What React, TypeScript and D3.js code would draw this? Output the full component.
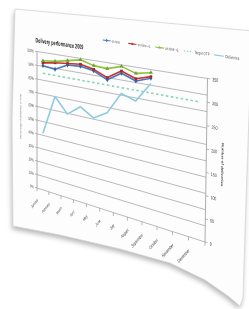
import * as d3 from "d3";

// values (percent on time, deliveries count)
const MONTHS = [
  "January", "February", "March", "April", "May", "June",
  "July", "August", "September", "October", "November", "December",
];
const ON_TIME = [90.5, 89.5, 94, 94.5, 93, 88.5, 94.5, 91, 94.5];
const ON_TIME_1 = [92.5, 94, 95, 96, 94, 90, 96, 92.5, 95.5];
const ON_TIME_3 = [94, 95, 97, 99, 96.5, 96, 99, 96, 98];
const TARGET = [85, 85, 85, 85, 85, 85, 85, 85, 85, 85, 85, 85];
const DELIVERIES = [145, 245, 208, 233, 213, 232, 284, 273, 319];
const LEFT_TICKS = [0, 10, 20, 30, 40, 50, 60, 70, 80, 90, 100];
const RIGHT_TICKS = [0, 50, 100, 150, 200, 250, 300, 350];
const LEGEND = ["on time", "on time +1", "on time +3", "Target OTP", "Deliveries"];

const W = 249;
const H = 309;
// flat chart space (plot area), then bent onto the tilted sheet
const PW = 300;
const PH = 170;
const PLOT_QUAD = [[37, 51.5], [207.5, 78.5], [37, 188], [205, 242]]; // TL, TR, BL, BR
const PAPER = [
  [15, 9], [252, 31], [246, 200], [243, 298], [240, 306], [228, 296], [205, 280],
  [170, 263], [120, 249], [60, 235], [13, 226], [12, 120],
];
const FONT = "Liberation Sans, Arial, sans-serif";

// unit square -> quad
function makeHomography(q: number[][]) {
  const [[x0, y0], [x1, y1], [x2, y2], [x3, y3]] = q;
  const sx = x0 - x1 + x3 - x2;
  const sy = y0 - y1 + y3 - y2;
  const dx1 = x1 - x3, dx2 = x2 - x3, dy1 = y1 - y3, dy2 = y2 - y3;
  const det = dx1 * dy2 - dx2 * dy1;
  const g = (sx * dy2 - dx2 * sy) / det;
  const h = (dx1 * sy - sx * dy1) / det;
  const a = x1 - x0 + g * x1, b = x2 - x0 + h * x2, c = x0;
  const d = y1 - y0 + g * y1, e = y2 - y0 + h * y2, f = y0;
  return (s: number, t: number): [number, number] => {
    const w = g * s + h * t + 1;
    return [(a * s + b * t + c) / w, (d * s + e * t + f) / w];
  };
}

const proj = makeHomography(PLOT_QUAD);
const P = (x: number, y: number) => proj(x / PW, y / PH);

// local affine for text at a flat point, optional rotation (deg)
function tf(x: number, y: number, rot = 0) {
  const [X, Y] = P(x, y);
  const eps = 0.5;
  const [X1, Y1] = P(x + eps, y);
  const [X2, Y2] = P(x, y + eps);
  const a = (X1 - X) / eps, b = (Y1 - Y) / eps;
  const c = (X2 - X) / eps, d = (Y2 - Y) / eps;
  const r = (rot * Math.PI) / 180;
  const cs = Math.cos(r), sn = Math.sin(r);
  const m00 = a * cs + c * sn, m01 = -a * sn + c * cs;
  const m10 = b * cs + d * sn, m11 = -b * sn + d * cs;
  return `matrix(${m00},${m10},${m01},${m11},${X},${Y})`;
}

function seg(x1: number, y1: number, x2: number, y2: number) {
  const [a, b] = P(x1, y1);
  const [c, d] = P(x2, y2);
  return `M${a},${b}L${c},${d}`;
}

export default function App() {
  const x = d3.scaleBand().domain(MONTHS).range([0, PW]);
  const cx = (i: number) => (x(MONTHS[i]) as number) + x.bandwidth() / 2;
  const yL = d3.scaleLinear().domain([0, 100]).range([PH, 0]);
  const yR = d3.scaleLinear().domain([0, 350]).range([PH, 0]);
  const line = d3.line();

  const series = [
    { name: LEGEND[0], values: ON_TIME, color: "#4677c4", symbol: d3.symbolDiamond, scale: yL, dash: "" },
    { name: LEGEND[1], values: ON_TIME_1, color: "#c8352e", symbol: d3.symbolSquare, scale: yL, dash: "" },
    { name: LEGEND[2], values: ON_TIME_3, color: "#8cc43f", symbol: d3.symbolTriangle, scale: yL, dash: "" },
    { name: LEGEND[3], values: TARGET, color: "#86d6b4", symbol: null, scale: yL, dash: "2.5 2.5" },
    { name: LEGEND[4], values: DELIVERIES, color: "#8ccbe0", symbol: null, scale: yR, dash: "" },
  ];

  const paperPath = d3.line().curve(d3.curveLinearClosed)(PAPER as [number, number][]);

  return (
    <svg width={W} height={H} style={{ position: "absolute", left: 0, top: 0, background: "#fff" }}>
      <defs>
        <filter id="shadow" x="-20%" y="-20%" width="140%" height="140%">
          <feGaussianBlur stdDeviation="2.5" />
        </filter>
        <filter id="soft">
          <feGaussianBlur stdDeviation="0.4" />
        </filter>
      </defs>
      <path d={paperPath ?? ""} transform="translate(-1,3)" fill="#777" opacity={0.55} filter="url(#shadow)" />
      <path d={paperPath ?? ""} fill="#fdfdfd" stroke="#d6d6d6" strokeWidth={0.8} />

      <g filter="url(#soft)" fontFamily={FONT}>
        {/* gridlines */}
        {LEFT_TICKS.map((v) => (
          <path key={"g" + v} d={seg(0, yL(v), PW, yL(v))} stroke="#a8a8a8" strokeWidth={0.8} fill="none" />
        ))}
        {/* axes */}
        <path d={seg(0, 0, 0, PH)} stroke="#999" strokeWidth={0.8} />
        <path d={seg(PW, 0, PW, PH)} stroke="#999" strokeWidth={0.8} />
        {LEFT_TICKS.map((v) => (
          <path key={"lt" + v} d={seg(-4, yL(v), 0, yL(v))} stroke="#999" strokeWidth={0.7} />
        ))}
        {RIGHT_TICKS.map((v) => (
          <path key={"rt" + v} d={seg(PW, yR(v), PW + 4, yR(v))} stroke="#999" strokeWidth={0.7} />
        ))}
        {d3.range(MONTHS.length + 1).map((i) => (
          <path key={"bt" + i} d={seg(i * x.bandwidth(), PH, i * x.bandwidth(), PH + 4)} stroke="#999" strokeWidth={0.7} />
        ))}

        {/* tick labels */}
        {LEFT_TICKS.map((v) => (
          <text key={"ll" + v} transform={tf(-7, yL(v) + 2)} fontSize={5.5} textAnchor="end" fill="#444">
            {v + "%"}
          </text>
        ))}
        {RIGHT_TICKS.map((v) => (
          <text key={"rl" + v} transform={tf(PW + 7, yR(v) + 2)} fontSize={5.2} fill="#444">
            {v}
          </text>
        ))}
        {MONTHS.map((m, i) => (
          <text key={m} transform={tf(cx(i) - 10, PH + 15, -45)} fontSize={5.2} textAnchor="end" fill="#444">
            {m}
          </text>
        ))}

        {/* titles */}
        <text transform={tf(-3, -11)} fontSize={8} fontWeight="bold" fill="#222">
          Delivery performance 2009
        </text>
        <text transform={tf(-34, PH / 2, -90)} fontSize={4} textAnchor="middle" fill="#555">
          Percentage of deliveries on time
        </text>
        <text transform={tf(PW + 22, PH / 2, 90)} fontSize={4.5} fontWeight="bold" textAnchor="middle" fill="#444">
          Number of deliveries
        </text>

        {/* legend */}
        {series.map((s, i) => {
          const lx = 129 + i * 45;
          const ly = -25;
          const [mx, my] = P(lx + 7, ly);
          return (
            <g key={"lg" + i}>
              <path d={seg(lx, ly, lx + 14, ly)} stroke={s.color} strokeWidth={1.1} strokeDasharray={s.dash ? "1.5 1.5" : undefined} />
              {s.symbol && (
                <path d={d3.symbol().type(s.symbol).size(4)() ?? ""} transform={`translate(${mx},${my})`} fill={s.color} />
              )}
              <text transform={tf(lx + 16, ly + 1.6)} fontSize={4.5} fill="#555">
                {s.name}
              </text>
            </g>
          );
        })}

        {/* series */}
        {series.map((s, k) => {
          const pts = s.values.map((v, i) => P(cx(i), s.scale(v)));
          return (
            <g key={"s" + k}>
              <path
                d={line(pts) ?? ""}
                fill="none"
                stroke={s.color}
                strokeWidth={1.6}
                strokeDasharray={s.dash || undefined}
                strokeLinejoin="round"
              />
              {s.symbol &&
                pts.map((p, i) => (
                  <path
                    key={i}
                    d={d3.symbol().type(s.symbol!).size(7)() ?? ""}
                    transform={`translate(${p[0]},${p[1]})`}
                    fill={d3.color(s.color)!.darker(0.6).toString()}
                  />
                ))}
            </g>
          );
        })}
      </g>
    </svg>
  );
}
